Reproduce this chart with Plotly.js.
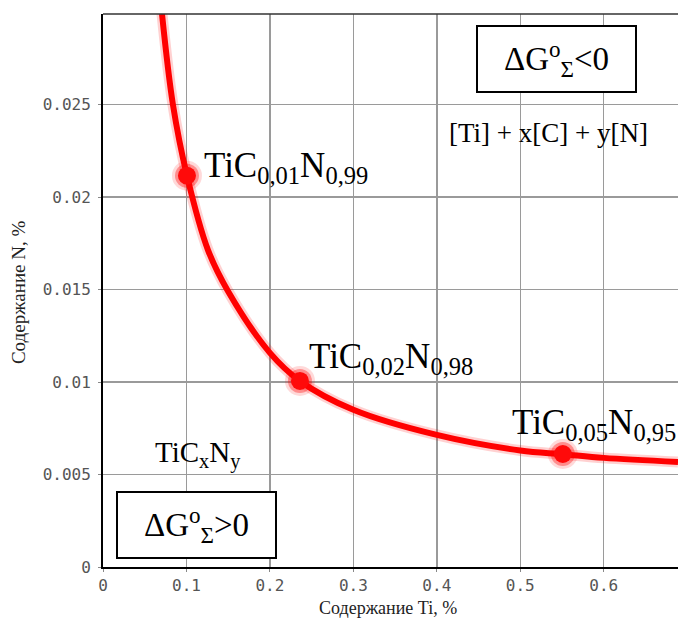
<!DOCTYPE html>
<html><head><meta charset="utf-8">
<script src="https://cdn.plot.ly/plotly-3.0.1.min.js"></script>
<style>body{margin:0;background:#fff}#chart{width:678px;height:618px}</style>
</head><body><div id="chart"></div>
<script>
// Curve: boundary of ΔG°Σ = 0
const tiContent = [0.0707, 0.0838, 0.1006, 0.1257, 0.150, 0.200, 0.236, 0.300, 0.400, 0.500, 0.551, 0.600, 0.689];
const nContent  = [0.0299, 0.0250, 0.02116, 0.01715, 0.0149, 0.01158, 0.01006, 0.0085, 0.00714, 0.00630, 0.00610, 0.0059, 0.00568];
// Marked compositions
const compTi = [0.1006, 0.236, 0.551];
const compN  = [0.02116, 0.01006, 0.00611];
const compLabels = ['TiC<sub>0,01</sub>N<sub>0,99</sub>', 'TiC<sub>0,02</sub>N<sub>0,98</sub>', 'TiC<sub>0,05</sub>N<sub>0,95</sub>'];
// Ticks
const xTicks = [0, 0.1, 0.2, 0.3, 0.4, 0.5, 0.6];
const xTickText = ['0', '0.1', '0.2', '0.3', '0.4', '0.5', '0.6'];
const yTicks = [0, 0.005, 0.01, 0.015, 0.02, 0.025];
const yTickText = ['0', '0.005', '0.01', '0.015', '0.02', '0.025'];

const serif = 'Liberation Serif, Times New Roman, serif';
const labelShift = [[15, 8], [7, 22], [-53, 30]];

const traces = [
  {x: tiContent, y: nContent, mode: 'lines', line: {color: 'rgba(255,0,0,0.18)', width: 11, shape: 'spline'}, hoverinfo: 'skip', showlegend: false},
  {x: tiContent, y: nContent, mode: 'lines', line: {color: '#ff0000', width: 6, shape: 'spline'}, showlegend: false},
  {x: compTi, y: compN, mode: 'markers', marker: {color: 'rgba(255,0,0,0.15)', size: 30}, hoverinfo: 'skip', showlegend: false},
  {x: compTi, y: compN, mode: 'markers', marker: {color: 'rgba(255,0,0,0.35)', size: 24}, hoverinfo: 'skip', showlegend: false},
  {x: compTi, y: compN, mode: 'markers', marker: {color: '#ff0a0a', size: 18}, showlegend: false}
];

const annotations = compLabels.map((t, i) => ({
  x: compTi[i], y: compN[i], xref: 'x', yref: 'y', text: t, showarrow: false,
  xanchor: 'left', yanchor: 'middle', xshift: labelShift[i][0], yshift: labelShift[i][1],
  font: {family: serif, size: 35, color: '#000'}
}));
annotations.push(
  {x: 0.06, y: 0.00606, xref: 'x', yref: 'y', text: 'TiC<sub>x</sub>N<sub>y</sub>', showarrow: false,
   xanchor: 'left', yanchor: 'middle', font: {family: serif, size: 29, color: '#000'}},
  {x: 0.412, y: 0.02348, xref: 'x', yref: 'y', text: '[Ti] + x[C] + y[N]', showarrow: false,
   xanchor: 'left', yanchor: 'middle', font: {family: serif, size: 27, color: '#000'}},
  {x: 0.543, y: 0.02749, xref: 'x', yref: 'y', text: 'ΔG<sup>o</sup><sub>Σ</sub>&lt;0', showarrow: false,
   xanchor: 'center', yanchor: 'middle', width: 155, height: 62, borderpad: 1, borderwidth: 2,
   bordercolor: '#000', bgcolor: '#fff', font: {family: serif, size: 33, color: '#000'}},
  {x: 0.1126, y: 0.00227, xref: 'x', yref: 'y', text: 'ΔG<sup>o</sup><sub>Σ</sub>&gt;0', showarrow: false,
   xanchor: 'center', yanchor: 'middle', width: 155, height: 62, borderpad: 1, borderwidth: 2,
   bordercolor: '#000', bgcolor: '#fff', font: {family: serif, size: 33, color: '#000'}},
  {x: 0.496, y: -0.0745, xref: 'paper', yref: 'paper', text: 'Содержание Ti, %', showarrow: false,
   xanchor: 'center', yanchor: 'middle', font: {family: serif, size: 18, color: '#222'}},
  {x: -0.148, y: 0.497, xref: 'paper', yref: 'paper', text: 'Содержание N, %', showarrow: false, textangle: -90,
   xanchor: 'center', yanchor: 'middle', font: {family: serif, size: 19, color: '#222'}}
);

const axisCommon = {
  showgrid: true, gridcolor: '#9a9a9a', gridwidth: 1.5, zeroline: false,
  showline: true, linecolor: '#000', linewidth: 2,
  ticks: 'outside', ticklen: 3, tickcolor: '#888',
  tickfont: {family: 'DejaVu Sans Mono, monospace', size: 16, color: '#555'}
};

const layout = {
  width: 678, height: 618,
  margin: {l: 103, r: 0, t: 14, b: 51, pad: 0},
  paper_bgcolor: '#fff', plot_bgcolor: '#fff',
  xaxis: Object.assign({}, axisCommon, {range: [0, 0.689], tickvals: xTicks, ticktext: xTickText, ticklabelstandoff: 0}),
  yaxis: Object.assign({}, axisCommon, {range: [0, 0.0299], tickvals: yTicks, ticktext: yTickText, ticklabelstandoff: 4}),
  annotations: annotations,
  shapes: [{type: 'line', xref: 'paper', yref: 'paper', x0: 0, x1: 1, y0: 1, y1: 1, line: {color: '#333', width: 1.5}}],
  showlegend: false
};

Plotly.newPlot('chart', traces, layout, {displayModeBar: false, staticPlot: true});
</script>
</body></html>
